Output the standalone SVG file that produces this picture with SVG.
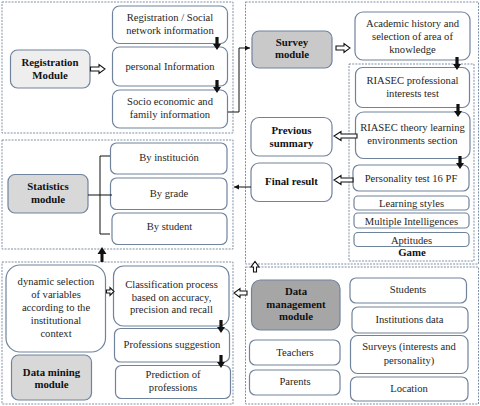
<svg xmlns="http://www.w3.org/2000/svg" xmlns:xlink="http://www.w3.org/1999/xlink" width="480" height="406" viewBox="0 0 480 406">
<style>
.bg{fill:#ffffff}
.c{fill:none;stroke:#7f8fa6;stroke-width:1;stroke-dasharray:2,1.2}
.n{fill:#ffffff;stroke:#70839d;stroke-width:1.2}
.m1{fill:#eeeeee;stroke:#70839d;stroke-width:1.2}
.m2{fill:#c9c9c9;stroke:#70839d;stroke-width:1.2}
.m3{fill:#d8d8d8;stroke:#70839d;stroke-width:1.2}
.m4{fill:#a6a6a6;stroke:#70839d;stroke-width:1.2}
text{font-family:"Liberation Serif","DejaVu Serif",serif;font-size:10.6px;fill:#262626;text-anchor:middle}
.b{font-weight:bold;font-size:10.8px;fill:#111}
.ln{fill:none;stroke:#111;stroke-width:1}
.ha{fill:#ffffff;stroke:#111;stroke-width:1.1}
.da{fill:#111}
</style>
<defs>
<path id="darr" d="M-1.6,0 H1.6 V7 H4 L0,13 L-4,7 H-1.6 Z"/>
<marker id="ah" markerWidth="6" markerHeight="6" refX="5" refY="3" orient="auto" markerUnits="userSpaceOnUse">
<path d="M0,0.5 L5,3 L0,5.5 Z" fill="#111"/>
</marker>
</defs>
<rect class="bg" x="0" y="0" width="480" height="406"/>

<!-- containers -->
<g id="containers">
<rect class="c" x="2" y="2" width="231" height="131"/>
<rect class="c" x="245.5" y="2" width="233" height="262"/>
<rect class="c" x="349" y="64" width="125" height="197"/>
<rect class="c" x="2" y="140" width="231" height="109"/>
<rect class="c" x="2" y="262" width="231" height="142"/>
<rect class="c" x="245.5" y="267" width="233" height="137"/>
</g>

<!-- Registration -->
<g id="registration-module">
<rect class="m1" x="10.5" y="50" width="79.5" height="38" rx="7"/>
<text class="b" x="50" y="66">Registration</text>
<text class="b" x="50" y="78.5">Module</text>
</g>
<g id="reg-social">
<rect class="n" x="112.5" y="6" width="115" height="37.5" rx="7"/>
<text x="170" y="20.5">Registration / Social</text>
<text x="170" y="33.5">network information</text>
</g>
<g id="personal-info">
<rect class="n" x="112.5" y="47" width="115" height="39" rx="7"/>
<text x="170" y="70">personal Information</text>
</g>
<g id="socio-info">
<rect class="n" x="112.5" y="90" width="115" height="38" rx="7"/>
<text x="170" y="105">Socio economic and</text>
<text x="170" y="118">family information</text>
</g>

<!-- Survey -->
<g id="survey-module">
<rect class="m2" x="252" y="31" width="80" height="37" rx="7"/>
<text class="b" x="292" y="45.5">Survey</text>
<text class="b" x="292" y="58">module</text>
</g>
<g id="academic-history">
<rect class="n" x="355" y="12" width="115" height="48" rx="8"/>
<text x="412.5" y="26.5">Academic history and</text>
<text x="412.5" y="39.5">selection of area of</text>
<text x="412.5" y="52.5">knowledge</text>
</g>
<g id="riasec-test">
<rect class="n" x="355.5" y="67.5" width="114" height="40" rx="7"/>
<text x="412.5" y="84">RIASEC professional</text>
<text x="412.5" y="96.5">interests test</text>
</g>
<g id="riasec-theory">
<rect class="n" x="355.5" y="112" width="114.5" height="46.5" rx="8"/>
<text x="412.5" y="131">RIASEC theory learning</text>
<text x="412.5" y="143.5">environments section</text>
</g>
<g id="personality-test">
<rect class="n" x="353" y="165" width="116" height="26" rx="6"/>
<text x="411" y="181.5">Personality test 16 PF</text>
</g>
<g id="learning-styles">
<rect class="n" x="354" y="196" width="115" height="14" rx="4"/>
<text x="411.5" y="207">Learning styles</text>
</g>
<g id="multiple-intelligences">
<rect class="n" x="354" y="213" width="115" height="15" rx="4"/>
<text x="411.5" y="224.5">Multiple Intelligences</text>
</g>
<g id="aptitudes">
<rect class="n" x="354" y="232.5" width="115" height="14" rx="4"/>
<text x="411.5" y="243.5">Aptitudes</text>
</g>
<g id="game-label">
<text class="b" x="412" y="255.5">Game</text>
</g>
<g id="previous-summary">
<rect class="n" x="251" y="117.5" width="81" height="38.5" rx="8"/>
<text class="b" x="291.5" y="134">Previous</text>
<text class="b" x="291.5" y="146.5">summary</text>
</g>
<g id="final-result">
<rect class="n" x="251" y="163" width="81" height="38.5" rx="8"/>
<text class="b" x="291.5" y="185">Final result</text>
</g>

<!-- Statistics -->
<g id="statistics-module">
<rect class="m3" x="8" y="174.5" width="80" height="38.5" rx="7"/>
<text class="b" x="48" y="190">Statistics</text>
<text class="b" x="48" y="203">module</text>
</g>
<g id="by-institution">
<rect class="n" x="110.5" y="143" width="116.5" height="31" rx="6"/>
<text x="169" y="161">By institución</text>
</g>
<g id="by-grade">
<rect class="n" x="110.5" y="178" width="116.5" height="31.5" rx="6"/>
<text x="169" y="197">By grade</text>
</g>
<g id="by-student">
<rect class="n" x="112" y="213" width="115" height="31.5" rx="6"/>
<text x="169.5" y="230">By student</text>
</g>

<!-- Data mining -->
<g id="dynamic-selection">
<rect class="n" x="6" y="265" width="99.5" height="87" rx="14"/>
<text x="56" y="285">dynamic selection</text>
<text x="56" y="298">of variables</text>
<text x="56" y="311">according to the</text>
<text x="56" y="324">institutional</text>
<text x="56" y="337">context</text>
</g>
<g id="classification">
<rect class="n" x="113.5" y="266" width="115.5" height="60" rx="10"/>
<text x="171.5" y="288">Classification process</text>
<text x="171.5" y="300.5">based on accuracy,</text>
<text x="171.5" y="313">precision and recall</text>
</g>
<g id="professions-suggestion">
<rect class="n" x="114.5" y="328.5" width="115" height="33.5" rx="6"/>
<text x="172" y="347.5">Professions suggestion</text>
</g>
<g id="prediction">
<rect class="n" x="115.5" y="365.5" width="115" height="33" rx="6"/>
<text x="173" y="377.5">Prediction of</text>
<text x="173" y="390.5">professions</text>
</g>
<g id="data-mining-module">
<rect class="m3" x="11.5" y="355" width="80" height="45" rx="7"/>
<text class="b" x="51.5" y="375.5">Data mining</text>
<text class="b" x="51.5" y="388">module</text>
</g>

<!-- Data management -->
<g id="data-management-module">
<rect class="m4" x="251.5" y="280" width="88.5" height="50" rx="9"/>
<text class="b" x="296" y="294.5">Data</text>
<text class="b" x="296" y="307.5">management</text>
<text class="b" x="296" y="320">module</text>
</g>
<g id="students">
<rect class="n" x="350" y="278" width="116.5" height="25" rx="6"/>
<text x="408" y="292.5">Students</text>
</g>
<g id="institutions-data">
<rect class="n" x="352" y="307" width="116" height="26" rx="6"/>
<text x="409.5" y="322.5">Institutions data</text>
</g>
<g id="surveys">
<rect class="n" x="350.5" y="335.5" width="117.5" height="38" rx="7"/>
<text x="409" y="350">Surveys (interests and</text>
<text x="409" y="363.5">personality)</text>
</g>
<g id="location">
<rect class="n" x="350.5" y="377" width="117.5" height="24" rx="6"/>
<text x="409" y="391.5">Location</text>
</g>
<g id="teachers">
<rect class="n" x="249.5" y="340" width="90.5" height="25" rx="6"/>
<text x="295" y="355.5">Teachers</text>
</g>
<g id="parents">
<rect class="n" x="249.5" y="370" width="90.5" height="25" rx="6"/>
<text x="295" y="385">Parents</text>
</g>

<!-- connectors -->
<g id="connectors">
<path class="ha" d="M90.5,67 H99 V64.5 L105,69 L99,73.5 V71 H90.5 Z"/>
<use xlink:href="#darr" class="da" x="217" y="37"/>
<use xlink:href="#darr" class="da" x="217" y="80"/>
<path class="ln" d="M228,112 H239 V48 H250" marker-end="url(#ah)"/>
<path class="ha" d="M336,46 H344 V43.5 L350,48 L344,52.5 V50 H336 Z"/>
<use xlink:href="#darr" class="da" x="457" y="57"/>
<use xlink:href="#darr" class="da" x="458" y="104"/>
<use xlink:href="#darr" class="da" x="460" y="156"/>
<path class="ha" d="M357,134 H341 V131.5 L334,136 L341,140.5 V138 H357 Z"/>
<path class="ha" d="M353,178 H341 V175.5 L334,180 L341,184.5 V182 H353 Z"/>
<path class="ln" d="M251,187 H234" marker-end="url(#ah)"/>
<path class="ln" d="M88,195 H112 M110,156 H100 V234 H110"/>
<path d="M100.5,262 V254 H97.5 L102,247 L106.5,254 H103.5 V262 Z" fill="#111"/>
<path class="ha" d="M106.5,290 H110 V287.5 L114,291.5 L110,295.5 V293 H106.5 Z"/>
<use xlink:href="#darr" class="da" x="221" y="320"/>
<use xlink:href="#darr" class="da" x="221" y="355"/>
<path class="ha" d="M247,291 H240 V288.5 L234,293 L240,297.5 V295 H247 Z"/>
<path class="ha" d="M253.5,272 V267 H251 L255,261.5 L259,267 H256.5 V272 Z"/>
</g>
</svg>
